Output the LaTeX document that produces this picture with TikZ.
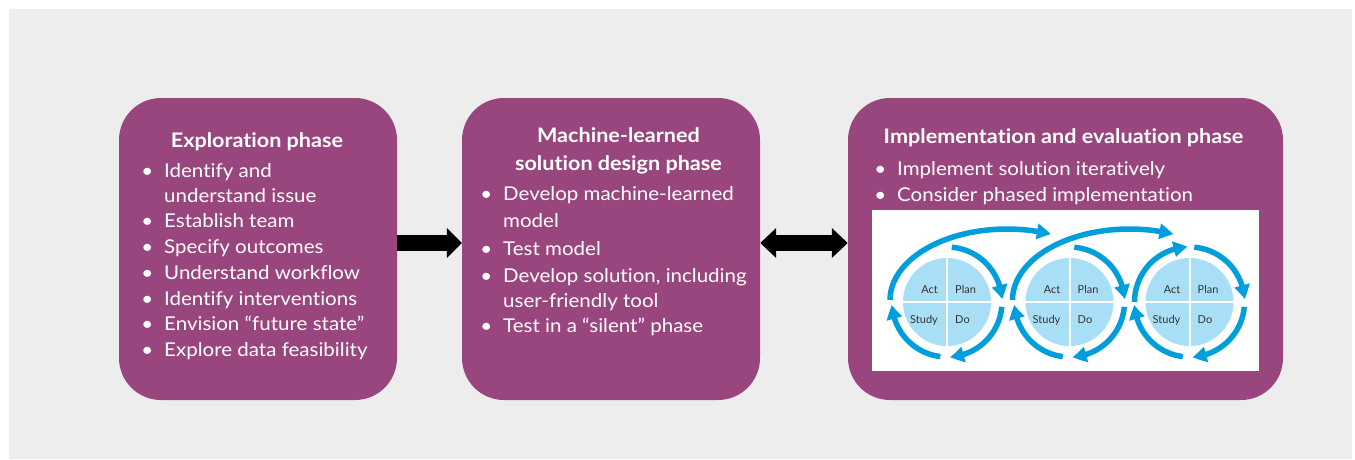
\documentclass[tikz,border=0pt]{standalone}
\usepackage{fontspec}
\setmainfont{Lato}[FakeStretch=1.08, Ligatures=NoCommon]
\newfontfamily\labfont{Lato}
\usetikzlibrary{arrows.meta,bending}
\definecolor{bggray}{HTML}{EDEDED}
\definecolor{phasepurple}{HTML}{99467F}
\definecolor{cycblue}{HTML}{009EDB}
\definecolor{cyclight}{HTML}{A9DEF7}
\definecolor{labgray}{HTML}{333333}
\tikzset{
  phasebox/.style={fill=phasepurple, draw=none, rounded corners=42pt, minimum height=302pt, inner sep=0pt},
  headtxt/.style={text=white, font=\fontsize{20}{22}\selectfont\bfseries, anchor=base, inner sep=0pt},
  bultxt/.style={text=white, font=\fontsize{19}{21}\selectfont, anchor=base west, inner sep=0pt},
  fatarrow/.style={draw=black, line width=16pt, -{Triangle[length=15pt,width=29pt]}},
  fatdouble/.style={draw=black, line width=16pt, {Triangle[length=16pt,width=29pt]}-{Triangle[length=16pt,width=29pt]}},
  pdcacircle/.style={circle, fill=cyclight, draw=none, minimum size=88pt, inner sep=0pt},
  divider/.style={draw=white, line width=2pt},
  cyc/.style={draw=cycblue, line width=5.5pt, -{Triangle[length=14pt,width=15pt,bend]}},
  quadlab/.style={text=labgray, font=\labfont\fontsize{11}{12}\selectfont, inner sep=0pt}
}
\newcommand{\bul}{\llap{•\hspace{11pt}}}
\begin{document}
\begin{tikzpicture}[x=1pt,y=-1pt]
\useasboundingbox (0,0) rectangle (1355,459);
\fill[bggray] (9,9) rectangle (1352,459);

% phase boxes
\node[phasebox, minimum width=278pt] (b1) at (258,249) {};
\node[phasebox, minimum width=298pt] (b2) at (611,249) {};
\node[phasebox, minimum width=435pt] (b3) at (1065.5,249) {};

% box 1 text
\node[headtxt] (h1) at (257,147) {Exploration phase};
\node[bultxt] (l1a) at (164,177) {\bul Identify and};
\node[bultxt] (l1b) at (164,202) {understand issue};
\node[bultxt] (l1c) at (164,227) {\bul Establish team};
\node[bultxt] (l1d) at (164,253) {\bul Specify outcomes};
\node[bultxt] (l1e) at (164,279) {\bul Understand workflow};
\node[bultxt] (l1f) at (164,305) {\bul Identify interventions};
\node[bultxt] (l1g) at (164,330) {\bul Envision “future state”};
\node[bultxt] (l1h) at (164,356) {\bul Explore data feasibility};

% box 2 text
\node[headtxt] (h2a) at (618.5,142) {Machine-learned};
\node[headtxt] (h2b) at (618.5,170) {solution design phase};
\node[bultxt] (l2a) at (503,200) {\bul Develop machine-learned};
\node[bultxt] (l2b) at (503,227) {model};
\node[bultxt] (l2c) at (503,255) {\bul Test model};
\node[bultxt] (l2d) at (503,282) {\bul Develop solution, including};
\node[bultxt] (l2e) at (503,307) {user-friendly tool};
\node[bultxt] (l2f) at (503,332) {\bul Test in a “silent” phase};

% box 3 text
\node[headtxt] (h3) at (1063.5,143) {Implementation and evaluation phase};
\node[bultxt] (l3a) at (897,175) {\bul Implement solution iteratively};
\node[bultxt] (l3b) at (897,201) {\bul Consider phased implementation};

% connectors
\draw[fatarrow] (b1.east |- 0,243) -- (b2.west |- 0,243);
\draw[fatdouble] (b2.east |- 0,243) -- (b3.west |- 0,243);

% PDCA picture
\fill[white] (872,210) rectangle (1259,371);
\foreach \n/\cx in {1/947,2/1069.5,3/1189.5}{
  \node[pdcacircle] (c\n) at (\cx,302) {};
  \draw[divider] (c\n.north) -- (c\n.south);
  \draw[divider] (c\n.west) -- (c\n.east);
  \node[quadlab, anchor=base east] (act\n) at (\cx-9,293) {Act};
  \node[quadlab, anchor=base west] (plan\n) at (\cx+8,293) {Plan};
  \node[quadlab, anchor=base east] (study\n) at (\cx-9,323) {Study};
  \node[quadlab, anchor=base west] (do\n) at (\cx+8,323) {Do};
  \draw[cyc] (c\n.center) ++(-85:55) arc[start angle=-85, end angle=-3, radius=55];
  \draw[cyc] (c\n.center) ++(5:55) arc[start angle=5, end angle=87, radius=55];
  \draw[cyc] (c\n.center) ++(97:55) arc[start angle=97, end angle=177, radius=55];
}
\draw[cyc] (c1.center) ++(-57,-2) arc[start angle=180, end angle=292, x radius=117, y radius=71];
\draw[cyc] (c2.center) ++(-57,-2) arc[start angle=180, end angle=292, x radius=117, y radius=71];
\draw[cyc] (c3.center) ++(-55,0) arc[start angle=180, end angle=268, radius=55];
\end{tikzpicture}
\end{document}
